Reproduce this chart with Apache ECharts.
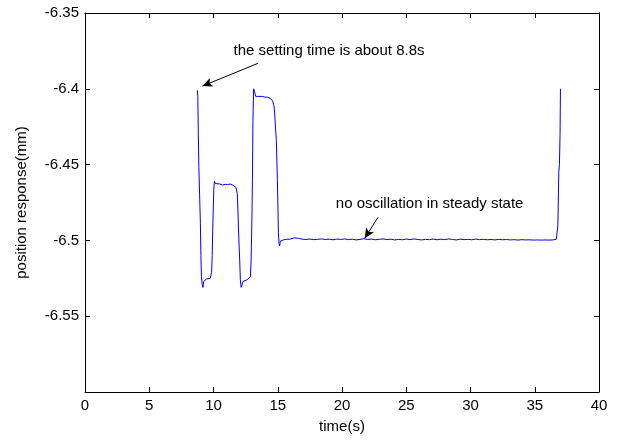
<!DOCTYPE html>
<html>
<head>
<meta charset="utf-8">
<script src="https://cdn.jsdelivr.net/npm/echarts@6/dist/echarts.min.js"></script>
<style>html,body{margin:0;padding:0;background:#fff}#c{width:621px;height:440px}</style>
</head>
<body>
<div id="c"></div>
<script>
// time (s)
const timeS = [
  8.75, 8.78, 8.82, 8.86, 8.92, 8.98, 9.02, 9.06, 9.12, 9.18, 9.24, 9.32, 9.45, 9.6, 9.75, 9.85, 9.9, 9.94, 9.98,
  10.02, 10.07, 10.15, 10.3, 10.5, 10.7, 10.9, 11.1, 11.3, 11.5, 11.65, 11.75, 11.85, 11.9, 11.94,
  12.0, 12.04, 12.09, 12.15, 12.2, 12.3, 12.45, 12.6, 12.75, 12.87, 12.92, 12.95,
  13.0, 13.03, 13.07, 13.12, 13.15, 13.2, 13.28, 13.35, 13.45, 13.6, 13.8, 14.0, 14.24, 14.45, 14.6, 14.7, 14.76, 14.82, 14.89, 14.97,
  15.02, 15.05, 15.1, 15.15, 15.2, 15.28, 15.5, 15.7, 16.0, 16.3, 16.6, 16.9, 17.2, 17.5, 17.8, 18.1, 18.4, 18.7, 19.0,
  19.3, 19.6, 19.9, 20.2, 20.5, 20.8, 21.1, 21.4, 21.7, 22.0, 22.3, 22.6, 22.9, 23.2, 23.5, 23.8, 24.1, 24.4, 24.7, 25.0,
  25.3, 25.6, 25.9, 26.2, 26.5, 26.8, 27.1, 27.4, 27.7, 28.0, 28.3, 28.6, 28.9, 29.2, 29.5, 29.8, 30.1, 30.4, 30.7, 31.0,
  31.3, 31.6, 31.9, 32.2, 32.5, 32.8, 33.1, 33.4, 33.7, 34.0, 34.3, 34.6, 34.9, 35.2, 35.5, 35.8, 36.1, 36.4, 36.55,
  36.68, 36.75, 36.8, 36.84, 36.87, 36.92, 36.97, 37.0
];
// position response (mm)
const positionMm = [
  -6.401, -6.405, -6.43, -6.452, -6.47, -6.489, -6.51, -6.524, -6.529, -6.531, -6.527, -6.526, -6.5255, -6.526, -6.525, -6.521, -6.51, -6.493, -6.48,
  -6.467, -6.461, -6.4625, -6.463, -6.4628, -6.4635, -6.463, -6.4632, -6.4628, -6.4635, -6.464, -6.465, -6.469, -6.48, -6.491,
  -6.505, -6.513, -6.526, -6.531, -6.5305, -6.527, -6.5265, -6.526, -6.5255, -6.524, -6.515, -6.504,
  -6.48, -6.46, -6.421, -6.40, -6.399, -6.402, -6.405, -6.406, -6.405, -6.4047, -6.405, -6.4055, -6.4056, -6.4065, -6.408, -6.411, -6.416, -6.425, -6.434, -6.46,
  -6.48, -6.495, -6.502, -6.5037, -6.5005, -6.4997, -6.4995, -6.4993, -6.4991, -6.4983, -6.4986, -6.4992, -6.4994, -6.4991, -6.4995, -6.4993, -6.4990, -6.4994, -6.4992,
  -6.4996, -6.4991, -6.4994, -6.4990, -6.4995, -6.4992, -6.4997, -6.4993, -6.4989, -6.4994, -6.4991, -6.4996, -6.4993, -6.4990, -6.4995, -6.4992, -6.4997, -6.4993, -6.4996, -6.4991,
  -6.4995, -6.4990, -6.4994, -6.4997, -6.4993, -6.4995, -6.4991, -6.4996, -6.4992, -6.4995, -6.4990, -6.4994, -6.4997, -6.4992, -6.4995, -6.4993, -6.4996, -6.4991, -6.4995, -6.4993,
  -6.4996, -6.4994, -6.4997, -6.4993, -6.4996, -6.4994, -6.4997, -6.4995, -6.4998, -6.4995, -6.4997, -6.4996, -6.4998, -6.4997, -6.4998, -6.4997, -6.4998, -6.4997, -6.4997,
  -6.4992, -6.498, -6.49, -6.47, -6.455, -6.45, -6.43, -6.40
];
const xTicks = [0, 5, 10, 15, 20, 25, 30, 35, 40];
const yTicks = [-6.6, -6.55, -6.5, -6.45, -6.4, -6.35];

// annotations (data coordinates)
const noteTexts = ['the setting time is about 8.8s', 'no oscillation in steady state'];
const noteAt = [[18.99, -6.3749], [26.82, -6.4760]];
const arrowFrom = [[13.46, -6.3832], [22.80, -6.4848]];
const arrowTo = [[9.14, -6.3982], [21.77, -6.4986]];

const FONT = 'Liberation Sans, Arial, Helvetica, sans-serif';
const chart = echarts.init(document.getElementById('c'), null, {renderer: 'canvas'});
const xMin = xTicks[0], xMax = xTicks[xTicks.length - 1];
const yMin = yTicks[0], yMax = yTicks[yTicks.length - 1];
const xStep = xTicks[1] - xTicks[0];
const yStep = +(yTicks[1] - yTicks[0]).toFixed(2);

function yFmt(v) {
  if (Math.abs(v - yMin) < 1e-6) return '';
  return String(+v.toFixed(2));
}

const axisLine = {show: true, onZero: false, lineStyle: {color: '#000', width: 1}};
const tick = {show: true, inside: true, length: 5, lineStyle: {color: '#000', width: 1}};

chart.setOption({
  animation: false,
  backgroundColor: '#fff',
  grid: {left: 85, right: 22, top: 13, bottom: 48},
  xAxis: [
    {type: 'value', min: xMin, max: xMax, interval: xStep, position: 'bottom',
     name: 'time(s)', nameLocation: 'middle', nameGap: 27,
     nameTextStyle: {color: '#000', fontSize: 15, fontFamily: FONT},
     axisLine: axisLine, axisTick: tick, splitLine: {show: false},
     axisLabel: {color: '#000', fontSize: 15, fontFamily: FONT, margin: 6}},
    {type: 'value', min: xMin, max: xMax, interval: xStep, position: 'top',
     axisLine: axisLine, axisTick: tick, splitLine: {show: false}, axisLabel: {show: false}}
  ],
  yAxis: [
    {type: 'value', min: yMin, max: yMax, interval: yStep, position: 'left',
     name: 'position response(mm)', nameLocation: 'middle', nameGap: 56,
     nameTextStyle: {color: '#000', fontSize: 15, fontFamily: FONT},
     axisLine: axisLine, axisTick: tick, splitLine: {show: false},
     axisLabel: {color: '#000', fontSize: 15, fontFamily: FONT, margin: 6, formatter: yFmt}},
    {type: 'value', min: yMin, max: yMax, interval: yStep, position: 'right',
     axisLine: axisLine, axisTick: tick, splitLine: {show: false}, axisLabel: {show: false}}
  ],
  series: [
    {type: 'line', xAxisIndex: 0, yAxisIndex: 0, showSymbol: false, symbol: 'none',
     data: timeS.map((t, i) => [t, positionMm[i]]),
     lineStyle: {color: '#0000ff', width: 1},
     markLine: {
       silent: true, symbol: ['none', 'arrow'], symbolSize: [7, 10],
       lineStyle: {color: '#000', width: 1, type: 'solid'},
       label: {show: false},
       data: arrowFrom.map((f, i) => [{coord: f}, {coord: arrowTo[i]}])
     },
     markPoint: {
       silent: true, symbol: 'circle', symbolSize: 0,
       label: {show: true, position: 'inside', color: '#000', fontSize: 15, fontFamily: FONT},
       data: noteAt.map((c, i) => ({coord: c, value: noteTexts[i], label: {formatter: noteTexts[i]}}))
     }
    }
  ]
});
</script>
</body>
</html>
